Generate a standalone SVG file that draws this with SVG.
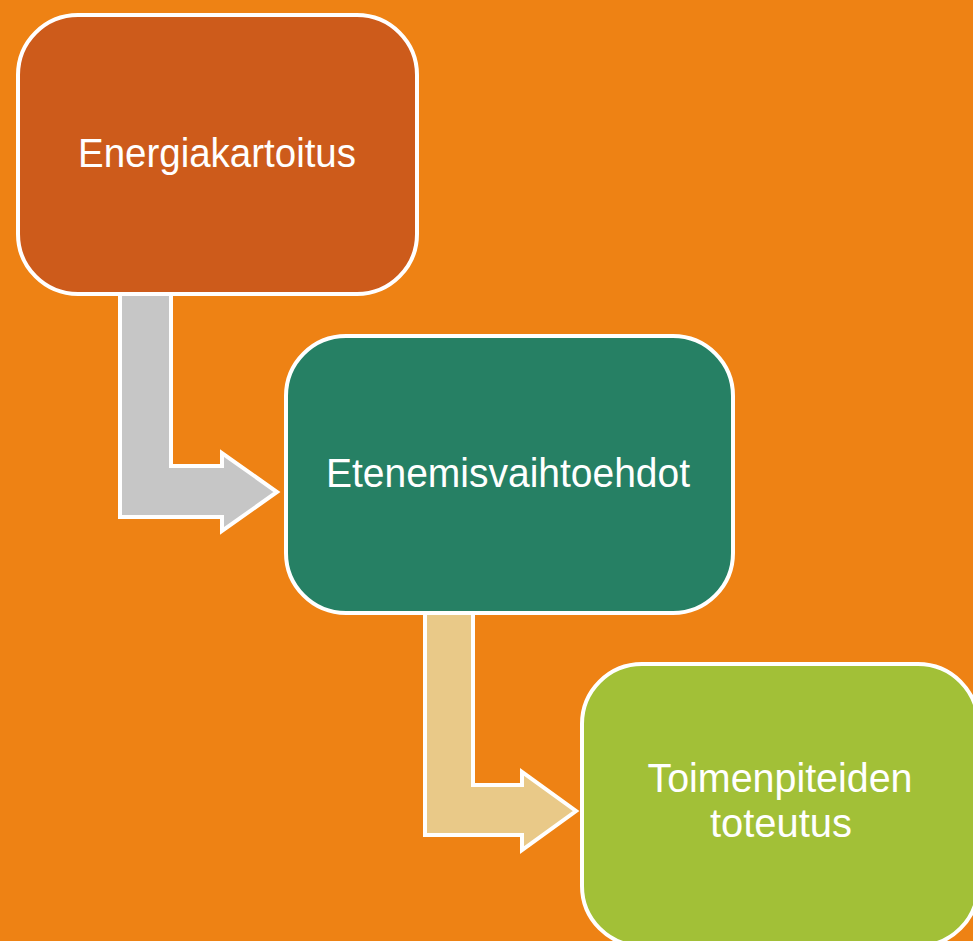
<svg xmlns="http://www.w3.org/2000/svg" width="973" height="941" viewBox="0 0 973 941">
<style>
.box{stroke:#FFFFFF;stroke-width:4}
.arrow{stroke:#FFFFFF;stroke-width:4;stroke-linejoin:miter}
.lbl{font-family:"Liberation Sans",Arial,sans-serif;font-size:40px;fill:#FFFFFF;text-anchor:middle}
</style>
<rect x="0" y="0" width="973" height="941" fill="#EE8214"/>
<g id="connectors">
<path class="arrow" fill="#C6C6C6" d="M120,292 L171,292 L171,466 L222,466 L222,453 L277,492 L222,531 L222,517 L120,517 Z"/>
<path class="arrow" fill="#E9C988" d="M425,612 L473,612 L473,785 L522,785 L522,772 L576,811 L522,850 L522,835 L425,835 Z"/>
</g>
<g id="node-energiakartoitus">
<rect class="box" x="18" y="15" width="399" height="279" rx="60" ry="60" fill="#CD5B1B"/>
<text class="lbl" x="217" y="167" textLength="278" lengthAdjust="spacingAndGlyphs">Energiakartoitus</text>
</g>
<g id="node-etenemisvaihtoehdot">
<rect class="box" x="286" y="336" width="447" height="277" rx="60" ry="60" fill="#268064"/>
<text class="lbl" x="508" y="487" textLength="364" lengthAdjust="spacingAndGlyphs">Etenemisvaihtoehdot</text>
</g>
<g id="node-toimenpiteiden">
<rect class="box" x="582" y="664" width="396" height="282" rx="60" ry="60" fill="#A2C037"/>
<text class="lbl" x="780" y="792" textLength="265" lengthAdjust="spacingAndGlyphs">Toimenpiteiden</text>
<text class="lbl" x="781" y="837" textLength="142" lengthAdjust="spacingAndGlyphs">toteutus</text>
</g>
</svg>
